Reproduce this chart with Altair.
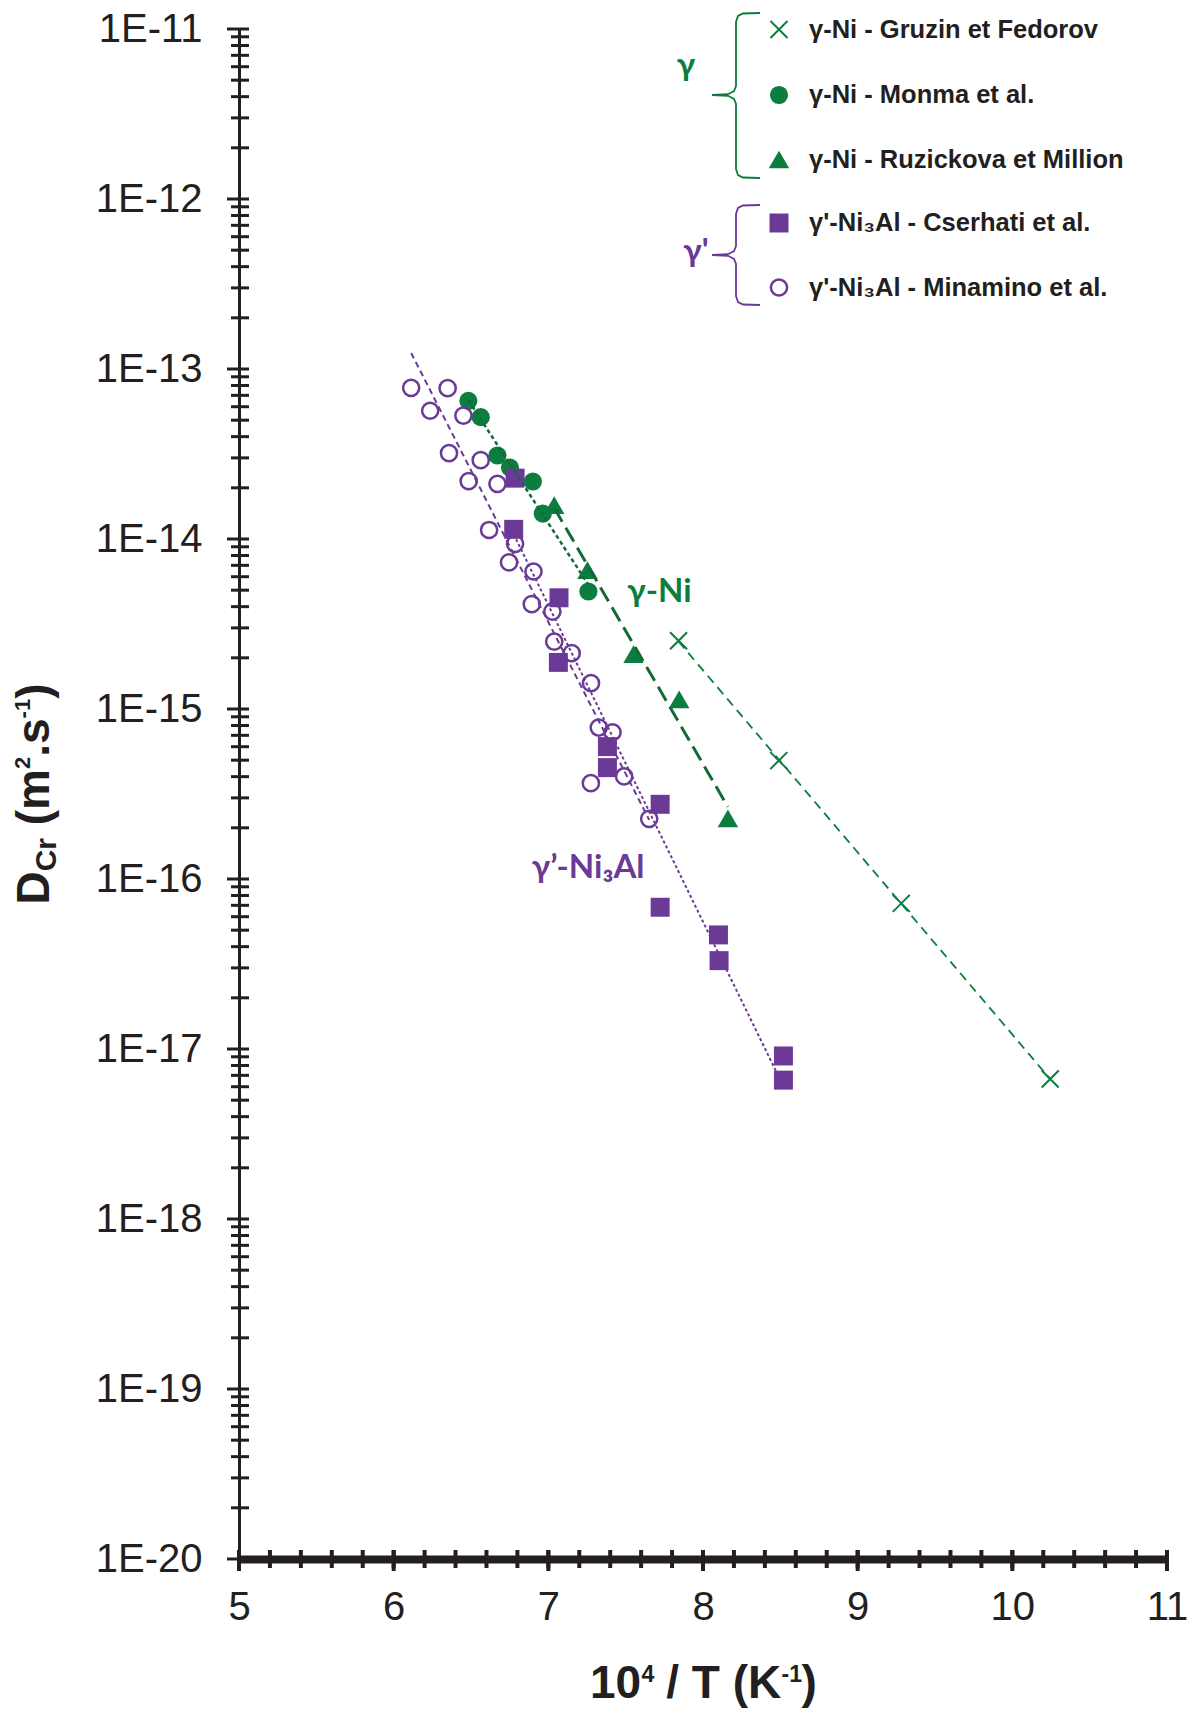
import altair as alt
import pandas as pd

# ---------------- data ----------------
gruzin_x = [7.842, 8.490, 9.282, 10.245]
gruzin_D = [2.52e-15, 4.97e-16, 7.19e-17, 6.66e-18]

monma_x = [6.483, 6.563, 6.671, 6.752, 6.900, 6.964, 7.259]
monma_D = [6.50e-14, 5.21e-14, 3.10e-14, 2.63e-14, 2.18e-14, 1.41e-14, 4.91e-15]

ruz_x = [7.038, 7.253, 7.551, 7.846, 8.161]
ruz_D = [1.58e-14, 6.57e-15, 2.10e-15, 1.14e-15, 2.27e-16]

cser_x = [6.785, 6.776, 7.069, 7.065, 7.382, 7.382, 7.723, 7.723, 8.100, 8.104, 8.520, 8.520]
cser_D = [2.28e-14, 1.14e-14, 4.51e-15, 1.88e-15, 6.01e-16, 4.52e-16, 2.75e-16, 6.82e-17,
          4.69e-17, 3.31e-17, 9.10e-18, 6.56e-18]

mina_x = [6.113, 6.349, 6.236, 6.451, 6.358, 6.563, 6.485, 6.671, 6.617, 6.785, 6.746,
          6.904, 6.893, 7.026, 7.038, 7.151, 7.276, 7.326, 7.415, 7.275, 7.490, 7.652]
mina_D = [7.75e-14, 7.71e-14, 5.68e-14, 5.32e-14, 3.20e-14, 2.91e-14, 2.19e-14, 2.11e-14,
          1.13e-14, 9.37e-15, 7.28e-15, 6.44e-15, 4.14e-15, 3.74e-15, 2.49e-15, 2.13e-15,
          1.42e-15, 7.78e-16, 7.30e-16, 3.66e-16, 4.01e-16, 2.26e-16]

legend_labels = ["γ-Ni - Gruzin et Fedorov", "γ-Ni - Monma et al.", "γ-Ni - Ruzickova et Million",
                 "γ'-Ni₃Al - Cserhati et al.", "γ'-Ni₃Al - Minamino et al."]
group_labels = ["γ", "γ'"]
phase_labels = ["γ-Ni", "γ’-Ni₃Al"]

x_tick_labels = [5, 6, 7, 8, 9, 10, 11]
y_tick_labels = [1e-11, 1e-12, 1e-13, 1e-14, 1e-15, 1e-16, 1e-17, 1e-18, 1e-19, 1e-20]
y_minor_ticks = [m * d for d in y_tick_labels[1:] for m in range(2, 10)]
x_minor_ticks = [round(5 + 0.2 * i, 1) for i in range(31)]

# ---------------- styling ----------------
GREEN = "#0b7d3e"
DGREEN = "#146a37"
PURPLE = "#6b3a97"
INK = "#231f20"
W, H = 928, 1530
FONT = "Liberation Sans"
ANN_FONT = "Lato"

xs = alt.Scale(domain=[5, 11], nice=False, zero=False)
ys = alt.Scale(type="log", domain=[1e-20, 1e-11], nice=False)

xaxis = alt.Axis(values=x_tick_labels, format="d", title=None, ticks=False, grid=False,
                 domainWidth=8, domainColor=INK, labelFont=FONT, labelFontSize=40,
                 labelColor=INK, labelPadding=28, labelFlush=False, labelOverlap=False)
yaxis = alt.Axis(values=y_tick_labels, labelExpr="'1E-' + round(-log(datum.value)/LN10)",
                 title=None, ticks=False, grid=False, domainWidth=3, domainColor=INK,
                 labelFont=FONT, labelFontSize=40, labelColor=INK, labelPadding=37,
                 labelFlush=False, labelOverlap=False)


def X(f="x"):
    return alt.X(f"{f}:Q", scale=xs, axis=xaxis)


def Y(f="D"):
    return alt.Y(f"{f}:Q", scale=ys, axis=yaxis)


def df(x, D):
    return pd.DataFrame({"x": x, "D": D})


CROSS = "M-1,-1L1,1M-1,1L1,-1"

layers = []

# axis ticks (crossing the axis lines)
layers.append(alt.Chart(pd.DataFrame({"v": y_tick_labels})).mark_rule(color=INK, strokeWidth=3)
              .encode(y=Y("v"), x=alt.value(-12), x2=alt.value(10)))
layers.append(alt.Chart(pd.DataFrame({"v": y_minor_ticks})).mark_rule(color=INK, strokeWidth=3)
              .encode(y=Y("v"), x=alt.value(-8), x2=alt.value(10)))
layers.append(alt.Chart(pd.DataFrame({"v": x_minor_ticks})).mark_rule(color=INK, strokeWidth=4)
              .encode(x=X("v"), y=alt.value(H - 9), y2=alt.value(H + 9)))
layers.append(alt.Chart(pd.DataFrame({"v": x_tick_labels})).mark_rule(color=INK, strokeWidth=4)
              .encode(x=X("v"), y=alt.value(H - 9), y2=alt.value(H + 12)))

# markers
layers.append(alt.Chart(df(monma_x, monma_D)).mark_point(shape="circle", filled=True, color=GREEN,
                                                          size=330, opacity=1).encode(x=X(), y=Y()))
layers.append(alt.Chart(df(ruz_x, ruz_D)).mark_point(shape="triangle-up", filled=True, color=GREEN,
                                                      size=420, opacity=1).encode(x=X(), y=Y()))
layers.append(alt.Chart(df(gruzin_x, gruzin_D)).mark_point(shape=CROSS, filled=False, color=GREEN,
                                                            strokeWidth=2, size=290, opacity=1).encode(x=X(), y=Y()))
layers.append(alt.Chart(df(cser_x, cser_D)).mark_point(shape="square", filled=True, color=PURPLE,
                                                        size=360, opacity=1).encode(x=X(), y=Y()))
layers.append(alt.Chart(df(mina_x, mina_D)).mark_point(shape="circle", filled=False, color=PURPLE,
                                                        strokeWidth=2.5, size=262, opacity=1).encode(x=X(), y=Y()))


# trend lines (least squares on log10 D)
def fit(x, D, color, dash, width):
    return (alt.Chart(df(x, D))
            .transform_calculate(ly="log(datum.D)/LN10")
            .transform_regression("x", "ly")
            .transform_calculate(D="pow(10, datum.ly)")
            .mark_line(color=color, strokeDash=dash, strokeWidth=width)
            .encode(x=X(), y=Y()))


layers.append(fit(gruzin_x, gruzin_D, GREEN, [9, 6], 1.8))
layers.append(fit(ruz_x, ruz_D, DGREEN, [16, 7], 3))
layers.append(fit(monma_x, monma_D, DGREEN, [4, 3], 2.5))
layers.append(fit(cser_x, cser_D, PURPLE, [3, 2.5], 2))
layers.append(fit(mina_x, mina_D, PURPLE, [6, 4], 2))


# ---------- text helpers (pixel placement of decorations) ----------
ONE = pd.DataFrame({"k": [0]})


def txt(s, x, y, size, color=INK, bold=True, angle=0, align="left", baseline="alphabetic", font=FONT):
    kw = dict(align=align, baseline=baseline, font=font, fontSize=size, color=color,
              fontWeight="bold" if bold else "normal")
    if angle:
        kw["angle"] = angle
    return alt.Chart(ONE).mark_text(**kw).encode(x=alt.value(x), y=alt.value(y), text=alt.value(s))


def sym(x, y, **mk):
    return alt.Chart(ONE).mark_point(opacity=1, **mk).encode(x=alt.value(x), y=alt.value(y))


# phase annotations (data coordinates)
layers.append(alt.Chart(pd.DataFrame({"x": [7.51], "D": [4.26e-15], "t": [phase_labels[0]]}))
              .mark_text(align="left", baseline="alphabetic", font=ANN_FONT, fontSize=33,
                         fontWeight="bold", color=GREEN)
              .encode(x=X(), y=Y(), text="t:N"))
layers.append(alt.Chart(pd.DataFrame({"x": [6.893], "D": [1.01e-16], "t": [phase_labels[1]]}))
              .mark_text(align="left", baseline="alphabetic", font=ANN_FONT, fontSize=33,
                         fontWeight="bold", color=PURPLE)
              .encode(x=X(), y=Y(), text="t:N"))

# legend
LX, TX = 540, 570
rows = [0.5, 66, 130.5, 194, 258.5]
layers.append(sym(LX, rows[0], shape=CROSS, filled=False, color=GREEN, strokeWidth=2, size=290))
layers.append(sym(LX, rows[1], shape="circle", filled=True, color=GREEN, size=330))
layers.append(sym(LX, rows[2], shape="triangle-up", filled=True, color=GREEN, size=420))
layers.append(sym(LX, rows[3], shape="square", filled=True, color=PURPLE, size=360))
layers.append(sym(LX, rows[4], shape="circle", filled=False, color=PURPLE, strokeWidth=2.5, size=262))
for lab, r in zip(legend_labels, rows):
    layers.append(txt(lab, TX, r, 25.5, baseline="middle"))
layers.append(txt(group_labels[0], 447, 47, 33, color=GREEN, align="center", font=ANN_FONT))
layers.append(txt(group_labels[1], 457, 233, 33, color=PURPLE, align="center", font=ANN_FONT))


# braces
def brace(xv, top, bot, mid, xl, xr):
    return [(xr, top), (xv + 7, top + 0.5), (xv + 2, top + 3), (xv, top + 9), (xv, mid - 9),
            (xv - 2, mid - 4), (xv - 8, mid - 0.8), (xl, mid), (xv - 8, mid + 0.8), (xv - 2, mid + 4),
            (xv, mid + 9), (xv, bot - 9), (xv + 2, bot - 3), (xv + 7, bot - 0.5), (xr, bot)]


def brace_chart(pts, color):
    d = pd.DataFrame({"i": list(range(len(pts))),
                      "x": [5 + p[0] / W * 6 for p in pts],
                      "D": [10 ** (-11 - p[1] / H * 9) for p in pts]})
    return alt.Chart(d).mark_line(color=color, strokeWidth=1.8).encode(x=X(), y=Y(), order="i:Q")


layers.append(brace_chart(brace(497, -16, 149, 66, 473, 521), GREEN))
layers.append(brace_chart(brace(497, 176, 276, 226, 473, 521), PURPLE))

# axis titles (composed for sub/superscripts; SVG drops leading spaces, so gaps are offsets)
BY = 1669
layers += [
    txt("10", 351, BY, 46),
    txt("4", 402.5, BY - 16, 23),
    txt("/ T (K", 427.3, BY, 46),
    txt("-1", 542.5, BY - 16, 23),
    txt(")", 562.5, BY, 46),
]
YB, YS, YP = -190, -183, -209
y0 = 765 + 110.5
layers += [
    txt("D", YB, y0, 46, angle=270),
    txt("Cr", YS, y0 - 33.2, 30, angle=270),
    txt("(m", YB, y0 - 79.3, 46, angle=270),
    txt("2", YP, y0 - 135.5, 22, angle=270),
    txt(".s", YB, y0 - 147.7, 46, angle=270),
    txt("-1", YP, y0 - 186.1, 22, angle=270),
    txt(")", YB, y0 - 205.7, 46, angle=270),
]

chart = (alt.layer(*layers)
         .properties(width=W, height=H, background="white",
                     padding={"left": 231, "top": 21, "right": 20, "bottom": 149},
                     autosize=alt.AutoSizeParams(type="none"))
         .configure_view(stroke=None))

chart.save("out.html", embed_options={"renderer": "svg", "actions": False})
